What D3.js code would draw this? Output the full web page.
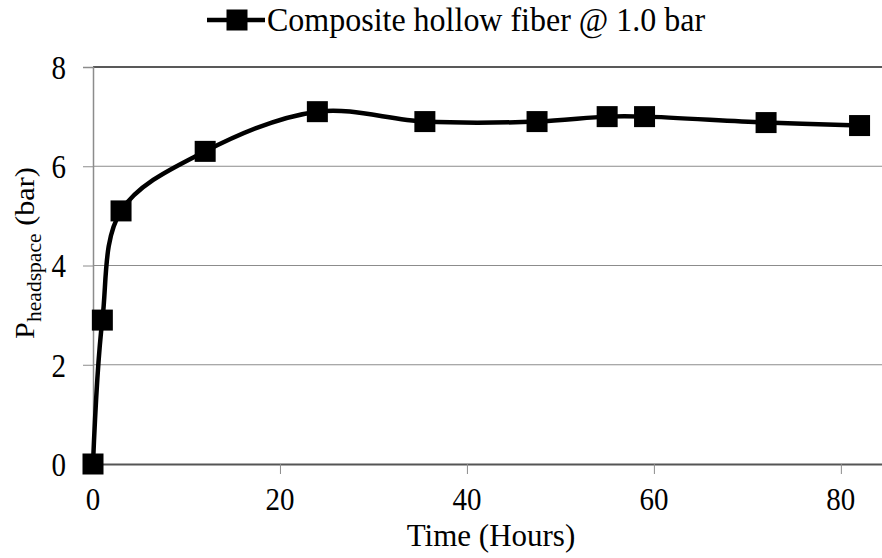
<!DOCTYPE html>
<html>
<head>
<meta charset="utf-8">
<script src="https://cdn.jsdelivr.net/npm/d3@7"></script>
<style>
  body { margin: 0; background: #fff; }
  text { font-family: "Liberation Serif", "Times New Roman", serif; fill: #000; }
</style>
</head>
<body>
<div id="chart"></div>
<script>
// data
var hours = [0, 1, 3, 12, 24, 35.5, 47.5, 55, 59, 72, 82];
var pressure = [0, 2.9, 5.1, 6.3, 7.1, 6.9, 6.9, 7.0, 7.0, 6.88, 6.82];
var xTicks = [0, 20, 40, 60, 80];
var yTicks = [0, 2, 4, 6, 8];
var seriesName = "Composite hollow fiber @ 1.0 bar";

var data = hours.map(function(h, i) { return { t: h, p: pressure[i] }; });

var W = 882, H = 558;
var margin = { top: 67, right: 0, bottom: 94, left: 93 },
    width = W - margin.left - margin.right,
    height = H - margin.top - margin.bottom;

var svg = d3.select("#chart")
    .append("svg")
    .attr("width", W)
    .attr("height", H);

// the original text is slightly taller than wide, so stretch it a bit
function label(parent, px, py, str, size, anchor, stretch) {
    return parent.append("text")
        .attr("transform", "translate(" + px + "," + py + ") scale(1," + stretch + ")")
        .attr("text-anchor", anchor)
        .style("font-size", size + "px")
        .text(str);
}

var g = svg.append("g")
    .attr("transform", "translate(" + margin.left + "," + margin.top + ")");

var x = d3.scaleLinear()
    .domain([0, 84.4])
    .range([0, width]);

var y = d3.scaleLinear()
    .domain([0, 8])
    .range([height, 0]);

// gridlines
g.selectAll(".grid")
    .data(yTicks.filter(function(d) { return d > 0 && d < 8; }))
    .enter().append("line")
    .attr("x1", 0)
    .attr("x2", width)
    .attr("y1", function(d) { return y(d); })
    .attr("y2", function(d) { return y(d); })
    .attr("stroke", "#8c8c8c")
    .attr("stroke-width", 1);

// top border
g.append("line")
    .attr("x1", 0).attr("x2", width)
    .attr("y1", y(8)).attr("y2", y(8))
    .attr("stroke", "#222").attr("stroke-width", 1.5);

// y axis
var yAxis = g.append("g")
    .call(d3.axisLeft(y).tickValues(yTicks).tickSize(10).tickFormat(""));
yAxis.select(".domain").attr("stroke", "#8c8c8c").attr("stroke-width", 1.5);
yAxis.selectAll(".tick line").attr("stroke", "#8c8c8c");
yTicks.forEach(function(v) {
    label(g, -27, y(v), v, 29, "end", 1.17).attr("dy", "0.35em");
});

// x axis
var xAxis = g.append("g")
    .attr("transform", "translate(0," + height + ")")
    .call(d3.axisBottom(x).tickValues(xTicks).tickSize(10).tickSizeOuter(0).tickFormat(""));
xAxis.select(".domain").attr("stroke", "#555").attr("stroke-width", 2);
xAxis.selectAll(".tick line").attr("stroke", "#8c8c8c");
xTicks.forEach(function(v) {
    label(g, x(v), 510 - margin.top, v, 29, "middle", 1.1);
});

// axis titles
label(svg, 491, 546, "Time (Hours)", 31, "middle", 1.0);

var yTitle = svg.append("text")
    .attr("transform", "translate(34,253) rotate(-90) scale(1.08,1)")
    .attr("text-anchor", "middle")
    .style("font-size", "28px");
yTitle.append("tspan").text("P");
yTitle.append("tspan").attr("dy", 7).style("font-size", "20px").text("headspace");
yTitle.append("tspan").attr("dy", -7).text(" (bar)");

// line
var line = d3.line()
    .x(function(d) { return x(d.t); })
    .y(function(d) { return y(d.p); })
    .curve(d3.curveCatmullRom.alpha(0.5));

g.append("path")
    .datum(data)
    .attr("fill", "none")
    .attr("stroke", "#000")
    .attr("stroke-width", 4.5)
    .attr("d", line);

var ms = 21;
g.selectAll(".pt")
    .data(data)
    .enter().append("rect")
    .attr("x", function(d) { return x(d.t) - ms / 2; })
    .attr("y", function(d) { return y(d.p) - ms / 2; })
    .attr("width", ms)
    .attr("height", ms)
    .attr("fill", "#000");

// legend
var legend = svg.append("g").attr("transform", "translate(207,20)");
legend.append("line")
    .attr("x1", 0).attr("x2", 58)
    .attr("y1", 0).attr("y2", 0)
    .attr("stroke", "#000").attr("stroke-width", 4.5);
legend.append("rect")
    .attr("x", 30 - ms / 2).attr("y", -ms / 2)
    .attr("width", ms).attr("height", ms)
    .attr("fill", "#000");
label(svg, 267, 31, seriesName, 32, "start", 1.05);
</script>
</body>
</html>
